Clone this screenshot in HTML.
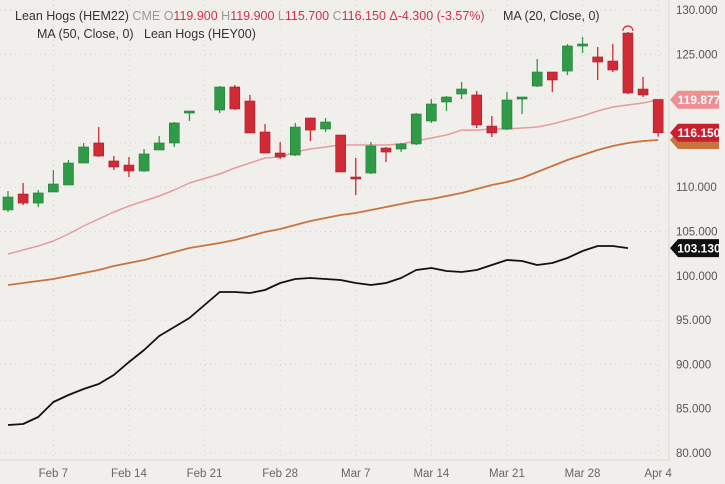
<!DOCTYPE html>
<html><head><meta charset="utf-8"><style>
body{margin:0;background:#f1efeb;font-family:"Liberation Sans",sans-serif;}
svg{display:block}
</style></head><body>
<svg id="chart" width="725" height="484" viewBox="0 0 725 484" xmlns="http://www.w3.org/2000/svg">
<rect x="0" y="0" width="725" height="484" fill="#f1efeb"/>
<g id="grid"></g>
<line x1="669" y1="0" x2="669" y2="460" stroke="#dcd9d3" stroke-width="1"/>
<line x1="0" y1="460" x2="669" y2="460" stroke="#dcd9d3" stroke-width="1"/>
<g id="lines"></g>
<g id="candles"></g>
<g id="yaxis"></g>
<g id="xaxis"></g>
<g id="tags"></g>
<g font-size="12.5">
<text x="15" y="20"><tspan fill="#333">Lean Hogs (HEM22)</tspan><tspan fill="#999"> CME </tspan><tspan fill="#999">O</tspan><tspan fill="#d0304a">119.900 </tspan><tspan fill="#999">H</tspan><tspan fill="#d0304a">119.900 </tspan><tspan fill="#999">L</tspan><tspan fill="#d0304a">115.700 </tspan><tspan fill="#999">C</tspan><tspan fill="#d0304a">116.150 </tspan><tspan fill="#d0304a">Δ-4.300 (-3.57%)</tspan></text>
<text x="503" y="20" fill="#333">MA (20, Close, 0)</text>
<text x="37" y="38" fill="#333">MA (50, Close, 0)</text>
<text x="144" y="38" fill="#333">Lean Hogs (HEY00)</text>
</g>
</svg>
<script>
const dates=["02-02","02-03","02-04","02-07","02-08","02-09","02-10","02-11","02-14","02-15","02-16","02-17","02-18","02-22","02-23","02-24","02-25","02-28","03-01","03-02","03-03","03-04","03-07","03-08","03-09","03-10","03-11","03-14","03-15","03-16","03-17","03-18","03-21","03-22","03-23","03-24","03-25","03-28","03-29","03-30","03-31","04-01","04-04"];
const opens=[107.43,109.23,108.21,109.46,110.25,112.73,114.99,112.96,112.50,111.83,114.20,114.99,118.37,118.71,121.31,119.73,116.23,113.86,113.63,117.81,116.57,115.89,111.15,111.60,114.42,114.31,114.88,117.47,119.62,120.52,120.41,116.90,116.57,119.95,121.42,123.00,123.11,125.94,124.70,124.24,127.40,121.08,119.90];
const highs=[109.57,110.47,109.68,111.94,113.07,114.99,116.79,113.52,113.41,114.31,115.78,117.36,118.60,121.42,121.54,120.41,117.13,115.10,117.25,117.81,117.81,115.89,113.30,115.10,114.54,114.99,118.37,119.95,120.29,121.87,120.86,118.04,120.74,120.18,124.47,123.00,126.16,126.95,125.82,126.16,127.52,122.44,119.90];
const lows=[107.20,107.99,107.76,109.46,110.25,112.73,113.41,111.94,111.15,111.72,114.20,114.54,117.47,118.37,118.71,116.12,113.86,113.18,113.52,115.21,116.23,111.72,109.12,111.49,112.84,113.97,114.76,117.25,118.60,119.95,116.68,115.67,116.45,118.26,121.31,120.74,122.66,125.15,122.10,123.00,120.52,120.18,115.70];
const closes=[108.89,108.21,109.35,110.36,112.73,114.54,113.52,112.28,111.83,113.75,114.99,117.25,118.60,121.31,118.83,116.12,113.86,113.41,116.79,116.45,117.36,111.72,110.93,114.65,113.97,114.88,118.26,119.39,120.18,121.08,117.02,116.12,119.84,120.18,123.00,122.10,125.94,126.16,124.13,123.23,120.63,120.41,116.15];
const ma20=[102.46,102.91,103.36,103.93,104.72,105.62,106.41,107.20,107.88,108.44,109.01,109.68,110.47,111.49,112.17,112.73,113.30,113.41,113.97,114.31,114.54,114.76,114.76,114.76,114.76,114.88,115.21,115.55,115.89,116.45,116.45,116.57,116.57,116.68,116.79,117.13,117.58,118.04,118.60,119.05,119.28,119.50,119.877];
const ma50=[98.96,99.19,99.41,99.64,99.98,100.32,100.65,101.11,101.44,101.78,102.24,102.69,103.14,103.70,104.04,104.49,104.94,105.28,105.73,106.18,106.52,106.86,107.09,107.43,107.76,108.10,108.44,108.67,109.01,109.35,109.80,110.25,110.59,111.04,111.72,112.39,113.07,113.63,114.20,114.65,114.99,115.21,115.33];
const hey00=[83.16,83.27,84.06,85.76,86.55,87.22,87.79,88.80,90.27,91.63,93.21,94.22,95.24,98.17,98.17,98.06,98.40,99.19,99.64,99.75,99.64,99.53,99.19,98.96,99.19,99.75,100.65,100.88,100.54,100.43,100.65,101.22,101.78,101.67,101.22,101.44,102.01,102.80,103.36,103.36,103.13];
const yTicks=[80,85,90,95,100,105,110,115,120,125,130];
const yTickLabels=["80.000","85.000","90.000","95.000","100.000","105.000","110.000","115.000","120.000","125.000","130.000"];
const xTickDates=["02-07","02-14","02-21","02-28","03-07","03-14","03-21","03-28","04-04"];
const xTickLabels=["Feb 7","Feb 14","Feb 21","Feb 28","Mar 7","Mar 14","Mar 21","Mar 28","Apr 4"];

const NS="http://www.w3.org/2000/svg";
function y(v){return 10+(130-v)*8.86;}
function dayIdx(md){const [m,d]=md.split("-").map(Number);const start=new Date(2022,1,2);const t=new Date(2022,m-1,d);let n=0;for(let c=new Date(start);c<t;c.setDate(c.getDate()+1)){const w=c.getDay();if(w!==0&&w!==6)n++;}return n;}
function x(md){return 8+dayIdx(md)*15.12;}
function mk(tag,attrs,parent){const e=document.createElementNS(NS,tag);for(const k in attrs)e.setAttribute(k,attrs[k]);parent.appendChild(e);return e;}
const grid=document.getElementById("grid"),lines=document.getElementById("lines"),cg=document.getElementById("candles"),ya=document.getElementById("yaxis"),xa=document.getElementById("xaxis"),tags=document.getElementById("tags");

yTicks.forEach((v,i)=>{
  const gl=mk("line",{x1:0,x2:669,y1:y(v),y2:y(v),stroke:"#d6d3cc","stroke-dasharray":"1 4"},grid);
  
  
  const t=mk("text",{x:676,y:y(v)+4,"font-size":"11.5",fill:"#555"},ya);
  t.textContent=yTickLabels[i];
  
  
});
xTickDates.forEach((d,i)=>{
  const gl=mk("line",{x1:x(d),x2:x(d),y1:0,y2:460,stroke:"#d6d3cc","stroke-dasharray":"1 4"},grid);
  
  
  const t=mk("text",{x:x(d),y:477,"font-size":"11.5",fill:"#666","text-anchor":"middle"},xa);
  t.textContent=xTickLabels[i];
  
  
});
function path(vals,color,w,name){
  const d=vals.map((v,i)=>(i?"L":"M")+x(dates[i]).toFixed(1)+","+y(v).toFixed(1)).join("");
  const p=mk("path",{d:d,fill:"none",stroke:color,"stroke-width":w,"stroke-linejoin":"round"},lines);
  
  
}
path(ma50,"#c8743e",1.8,"ma50-line");
path(ma20,"#e99a9c",1.5,"ma20-line");
path(hey00,"#111",1.8,"hey00-line");

dates.forEach((d,i)=>{
  const up=closes[i]>=opens[i];const col=up?"#2f9b47":"#cf2a35";const cx=x(d);
  const g=mk("g",{},cg);
  
  
  mk("line",{x1:cx,x2:cx,y1:y(highs[i]),y2:y(lows[i]),stroke:col,"stroke-width":1.3},g);
  const top=y(Math.max(opens[i],closes[i])),bot=y(Math.min(opens[i],closes[i]));
  mk("rect",{x:cx-5,y:top,width:10,height:Math.max(bot-top,2),fill:col,stroke:up?"#247a38":"#a81f28","stroke-width":0.6},g);
});
// marker above tallest candle
const mi=40;const mx=x(dates[mi]),my=y(highs[mi]);
const arc=mk("path",{d:`M${mx-5},${my-1} A5,5 0 0 1 ${mx+5},${my-1}`,fill:"none",stroke:"#cf2a35","stroke-width":1.2},cg);



function tag(v,bg,fg,label,name){
  const yy=y(v);const g=mk("g",{},tags);
  
  
  mk("path",{d:`M670,${yy} L678,${yy-9} L719,${yy-9} L719,${yy+9} L678,${yy+9} Z`,fill:bg},g);
  const t=mk("text",{x:699,y:yy+4.5,"font-size":"12","font-weight":"bold",fill:fg,"text-anchor":"middle"},g);
  t.textContent=label;
}
tag(ma50[ma50.length-1],"#c8743e","#fff","","ma50-price-tag");
tag(ma20[ma20.length-1],"#ee8f93","#fff",ma20[ma20.length-1].toFixed(3),"ma20-price-tag");
tag(closes[closes.length-1],"#c8202e","#fff",closes[closes.length-1].toFixed(3),"last-price-tag");
tag(hey00[hey00.length-1],"#111","#fff",hey00[hey00.length-1].toFixed(3),"hey00-price-tag");
</script>
</body></html>
